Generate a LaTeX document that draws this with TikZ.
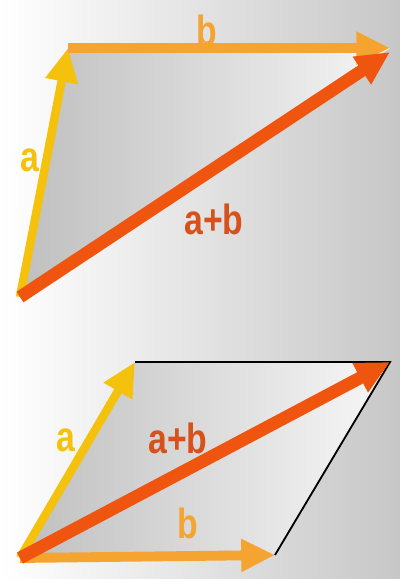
\documentclass[tikz,border=0pt]{standalone}
\usepackage{fontspec}
\setmainfont{Liberation Sans}
\usetikzlibrary{arrows.meta}
\definecolor{ca}{HTML}{F4C20D}
\definecolor{cb}{HTML}{F5A431}
\definecolor{cab}{HTML}{F0550F}
\definecolor{tab}{HTML}{D8501A}
\tikzset{
  vec/.style={line width=#1, -{Triangle[length=24,width=22]}},
  lbl/.style={font=\fontsize{30}{30}\selectfont\bfseries, inner sep=0pt, xscale=0.8},
}
\begin{document}
\begin{tikzpicture}[x=0.25mm,y=-0.25mm]
\shade[left color=white, right color=black!22] (0,0) rectangle (400,579);
\useasboundingbox (0,0) rectangle (400,579);
% top triangle
\coordinate (O1) at (20,297);
\coordinate (A1) at (68,48);
\coordinate (S1) at (390,48);
\coordinate (T1) at (390,52);
\shade[left color=black!25, right color=black!4] (O1) -- (A1) -- (S1) -- cycle;
\draw[vec=6, ca] (O1) -- (A1);
\draw[vec=7, cb] (A1) -- (S1);
\draw[vec=9, cab] (O1) -- (T1);
\node[lbl, text=cb] (lb1) at (207,30) {b};
\node[lbl, text=ca] (la1) at (30,160) {a};
\node[lbl, text=tab] (lab1) at (214,219) {a+b};
% bottom parallelogram
\coordinate (O2) at (20,558);
\coordinate (A2) at (135,362);
\coordinate (B2) at (275,555);
\coordinate (S2) at (390,362);
\shade[left color=black!25, right color=black!3] (O2) -- (A2) -- (S2) -- (B2) -- cycle;
\draw[black, line width=1.3] (A2) -- (S2) -- (B2);
\draw[vec=6, ca] (O2) -- (A2);
\draw[vec=7, cb] (O2) -- (B2);
\draw[vec=9, cab] (O2) -- (S2);
\node[lbl, text=ca] (la2) at (66,440) {a};
\node[lbl, text=tab] (lab2) at (178,438) {a+b};
\node[lbl, text=cb] (lb2) at (188,523) {b};
\end{tikzpicture}
\end{document}
